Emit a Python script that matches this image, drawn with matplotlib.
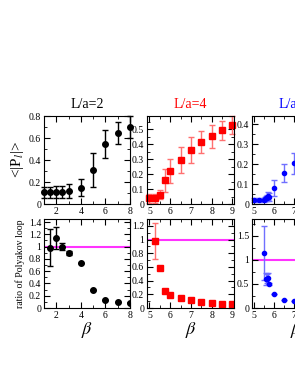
import numpy as np
import matplotlib
matplotlib.use("Agg")
import matplotlib.pyplot as plt
from matplotlib.ticker import MultipleLocator, FormatStrFormatter

# L/a=2 (black)
beta2 = [1.0, 1.5, 2.0, 2.5, 3.0, 4.0, 5.0, 6.0, 7.0, 8.0]
pl2 = [0.105, 0.105, 0.107, 0.112, 0.118, 0.15, 0.31, 0.546, 0.642, 0.702]
pl2_err = [0.053, 0.05, 0.055, 0.055, 0.06, 0.078, 0.155, 0.13, 0.1, 0.1]
beta2_r = [1.5, 2.0, 2.5, 3.0, 4.0, 5.0, 6.0, 7.0, 8.0]
ratio2 = [0.985, 1.136, 0.997, 0.90, 0.736, 0.293, 0.138, 0.10, 0.085]
ratio2_err = [0.30, 0.18, 0.06, 0.03, 0.0, 0.0, 0.0, 0.0, 0.0]

# L/a=4 (red)
beta4 = [5.0, 5.25, 5.5, 5.75, 6.0, 6.5, 7.0, 7.5, 8.0, 8.5, 9.0]
pl4 = [0.039, 0.04, 0.062, 0.158, 0.222, 0.295, 0.362, 0.417, 0.455, 0.493, 0.532]
pl4_err = [0.03, 0.03, 0.03, 0.075, 0.08, 0.085, 0.085, 0.075, 0.077, 0.062, 0.06]
beta4_r = [5.25, 5.5, 5.75, 6.0, 6.5, 7.0, 7.5, 8.0, 8.5, 9.0]
ratio4 = [0.975, 0.59, 0.255, 0.19, 0.14, 0.11, 0.09, 0.075, 0.065, 0.055]
ratio4_err = [0.26, 0.02, 0.0, 0.0, 0.0, 0.0, 0.0, 0.0, 0.0, 0.0]

# L/a=6 (blue)
beta6 = [5.0, 5.25, 5.5, 5.55, 5.6, 5.65, 5.7, 5.75, 6.0, 6.5, 7.0]
pl6 = [0.02, 0.02, 0.022, 0.025, 0.028, 0.03, 0.04, 0.035, 0.082, 0.153, 0.204]
pl6_err = [0.01, 0.01, 0.01, 0.012, 0.012, 0.015, 0.02, 0.02, 0.04, 0.045, 0.052]
beta6_r = [5.5, 5.6, 5.65, 5.7, 5.75, 6.0, 6.5, 7.0]
ratio6 = [1.15, 0.60, 0.61, 0.63, 0.50, 0.285, 0.175, 0.14]
ratio6_err = [0.56, 0.12, 0.1, 0.1, 0.03, 0.0, 0.0, 0.0]

titles = ["L/a=2", "L/a=4", "L/a=6"]

plt.rcParams.update({
    "font.family": ["Liberation Serif", "DejaVu Serif"],
    "mathtext.fontset": "stix",
    "xtick.direction": "in",
    "ytick.direction": "in",
    "xtick.top": True,
    "ytick.right": True,
    "xtick.labelsize": 7,
    "ytick.labelsize": 7,
    "xtick.major.size": 4,
    "ytick.major.size": 4,
    "xtick.minor.size": 2,
    "ytick.minor.size": 2,
    "xtick.major.pad": 2,
    "ytick.major.pad": 2,
})

W, H = 295, 382
fig = plt.figure(figsize=(W / 100, H / 100), dpi=100)


def box(x0, y0, x1, y1):
    return [x0 / W, 1 - y1 / H, (x1 - x0) / W, (y1 - y0) / H]


lefts = [(44, 130), (147, 234), (252, 339)]
top_y = (116, 204)
bot_y = (219, 308)

axt = [fig.add_axes(box(l, top_y[0], r, top_y[1])) for l, r in lefts]
axb = [fig.add_axes(box(l, bot_y[0], r, bot_y[1])) for l, r in lefts]

cols = ["black", "red", "blue"]
ecols = ["black", "#ff7070", "#7070ff"]
marks = ["o", "s", "o"]
msz = [4, 4, 3]
top_data = [(beta2, pl2, pl2_err), (beta4, pl4, pl4_err), (beta6, pl6, pl6_err)]
bot_data = [(beta2_r, ratio2, ratio2_err), (beta4_r, ratio4, ratio4_err),
            (beta6_r, ratio6, ratio6_err)]

for i in range(3):
    x, y, e = top_data[i]
    axt[i].errorbar(x, y, yerr=e, fmt=marks[i], color=cols[i], ecolor=ecols[i],
                    ms=msz[i], elinewidth=1, capsize=2, capthick=1, clip_on=False)
    x, y, e = bot_data[i]
    axb[i].errorbar(x, y, yerr=e, fmt=marks[i], color=cols[i], ecolor=ecols[i],
                    ms=msz[i], elinewidth=1, capsize=2, capthick=1)
    axb[i].axhline(1.0, color="#ff00ff", lw=1.5, alpha=0.8, zorder=1)
    axt[i].set_title(titles[i], color=cols[i], fontsize=10, pad=6)
    axb[i].set_xlabel(r"$\beta$", fontsize=13, labelpad=0)

# panel 1
axt[0].set_xlim(1, 8)
axt[0].set_ylim(0, 0.8)
axb[0].set_xlim(1, 8)
axb[0].set_ylim(0, 1.45)
for a in (axt[0], axb[0]):
    a.xaxis.set_major_locator(MultipleLocator(2))
    a.xaxis.set_minor_locator(MultipleLocator(1))
    a.yaxis.set_major_locator(MultipleLocator(0.2))
    a.yaxis.set_minor_locator(MultipleLocator(0.1))

# panel 2
axt[1].set_xlim(4.88, 9.08)
axt[1].set_ylim(0, 0.59)
axb[1].set_xlim(4.88, 9.08)
axb[1].set_ylim(0, 1.3)
axt[1].yaxis.set_major_locator(MultipleLocator(0.1))
axt[1].yaxis.set_minor_locator(MultipleLocator(0.05))
axb[1].yaxis.set_major_locator(MultipleLocator(0.2))
axb[1].yaxis.set_minor_locator(MultipleLocator(0.1))

# panel 3
axt[2].set_xlim(4.92, 9.2)
axt[2].set_ylim(0, 0.44)
axb[2].set_xlim(4.92, 9.2)
axb[2].set_ylim(0, 1.85)
axt[2].yaxis.set_major_locator(MultipleLocator(0.1))
axt[2].yaxis.set_minor_locator(MultipleLocator(0.05))
axb[2].yaxis.set_major_locator(MultipleLocator(0.5))
axb[2].yaxis.set_minor_locator(MultipleLocator(0.25))

for a in axt[1:] + axb[1:]:
    a.xaxis.set_major_locator(MultipleLocator(1))
    a.xaxis.set_minor_locator(MultipleLocator(0.5))

for a in axt + axb:
    a.yaxis.set_major_formatter(plt.FuncFormatter(lambda v, p: f"{v:g}"))
    a.xaxis.set_major_formatter(plt.FuncFormatter(lambda v, p: f"{v:g}"))
    a.tick_params(which="both", top=True, right=True)

axt[0].set_ylabel(r"<|P$_l$|>", fontsize=11, labelpad=2)
axb[0].set_ylabel("ratio of Polyakov loop", fontsize=7, labelpad=3)

fig.savefig("out.png", dpi=100, facecolor="white")
